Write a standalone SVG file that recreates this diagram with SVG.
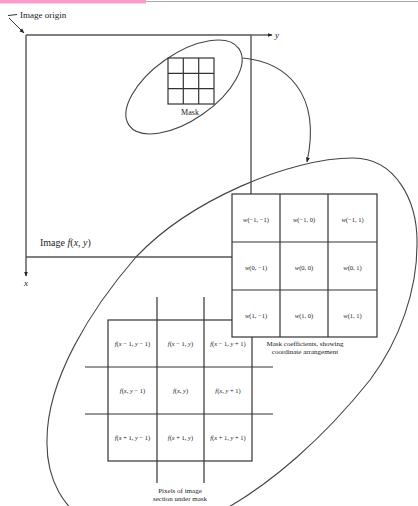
<svg xmlns="http://www.w3.org/2000/svg" width="418" height="506" viewBox="0 0 418 506">
<defs>
<marker id="ah" viewBox="0 0 10 10" refX="9" refY="5" markerWidth="5" markerHeight="5" orient="auto" markerUnits="userSpaceOnUse">
<path d="M0,1 L10,5 L0,9 z" fill="#222"/>
</marker>
<style>
text{font-family:"Liberation Serif","DejaVu Serif",serif;fill:#222}
.ln{fill:none;stroke:#555;stroke-width:1.4}
.gr{fill:none;stroke:#333;stroke-width:1.2}
.el{fill:none;stroke:#444;stroke-width:1.1}
.c{font-size:6.5px;text-anchor:middle}
.cap{font-size:7px;text-anchor:middle}
</style>
</defs>
<rect width="418" height="506" fill="#fff"/>
<line x1="0" y1="1.5" x2="418" y2="1.5" stroke="#aaa" stroke-width="1.2"/>
<rect x="0" y="0" width="146" height="3.5" fill="#f99ccc"/>

<g id="image">
<line class="ln" x1="26" y1="35" x2="251" y2="35"/>
<line class="ln" x1="251" y1="35" x2="251" y2="257"/>
<line class="ln" x1="26" y1="257" x2="251" y2="257"/>
<text x="40" y="246" font-size="10">Image <tspan font-style="italic">f</tspan>(<tspan font-style="italic">x</tspan>, <tspan font-style="italic">y</tspan>)</text>
</g>

<g id="axes">
<line class="ln" x1="251" y1="35" x2="272" y2="35" marker-end="url(#ah)"/>
<text x="275" y="38" font-size="9" font-style="italic">y</text>
<line class="ln" x1="26" y1="35" x2="26" y2="276" marker-end="url(#ah)"/>
<text x="24" y="286" font-size="9" font-style="italic">x</text>
</g>

<g id="origin">
<line x1="8" y1="15.5" x2="17" y2="14.5" stroke="#333" stroke-width="1"/>
<line x1="9" y1="18" x2="24" y2="33" stroke="#333" stroke-width="1" marker-end="url(#ah)"/>
<text x="20" y="18" font-size="9">Image origin</text>
</g>

<g id="small-ellipse">
<ellipse class="el" cx="184" cy="87" rx="67" ry="33" transform="rotate(-35 184 87)"/>
<rect class="gr" x="168" y="58" width="46" height="46"/>
<line class="gr" x1="183.3" y1="58" x2="183.3" y2="104"/>
<line class="gr" x1="198.7" y1="58" x2="198.7" y2="104"/>
<line class="gr" x1="168" y1="73.3" x2="214" y2="73.3"/>
<line class="gr" x1="168" y1="88.7" x2="214" y2="88.7"/>
<text x="190" y="115" font-size="8" text-anchor="middle">Mask</text>
</g>

<g id="connectors">
<path class="el" d="M243,58 C285,62 322,92 307,162" marker-end="url(#ah)"/>
</g>

<g id="big-ellipse">
<path class="el" d="M353,158 C395,158 418,200 417,245 C417,290 400,340 370,380 C330,430 270,490 200,522 C120,560 45,520 47,440 C47,380 90,310 136,257 C190,200 290,158 353,158 Z"/>
</g>

<g id="pixel-grid">
<rect class="gr" x="108" y="320" width="144" height="141"/>
<line class="gr" x1="157" y1="297" x2="157" y2="483"/>
<line class="gr" x1="204" y1="297" x2="204" y2="483"/>
<line class="gr" x1="85" y1="367" x2="273" y2="367"/>
<line class="gr" x1="85" y1="414" x2="273" y2="414"/>
<text class="c" x="132.5" y="346"><tspan font-style="italic">f</tspan>(<tspan font-style="italic">x</tspan> − 1, <tspan font-style="italic">y</tspan> − 1)</text>
<text class="c" x="180.5" y="346"><tspan font-style="italic">f</tspan>(<tspan font-style="italic">x</tspan> − 1, <tspan font-style="italic">y</tspan>)</text>
<text class="c" x="228" y="346"><tspan font-style="italic">f</tspan>(<tspan font-style="italic">x</tspan> − 1, <tspan font-style="italic">y</tspan> + 1)</text>
<text class="c" x="132.5" y="393"><tspan font-style="italic">f</tspan>(<tspan font-style="italic">x</tspan>, <tspan font-style="italic">y</tspan> − 1)</text>
<text class="c" x="180.5" y="393"><tspan font-style="italic">f</tspan>(<tspan font-style="italic">x</tspan>, <tspan font-style="italic">y</tspan>)</text>
<text class="c" x="228" y="393"><tspan font-style="italic">f</tspan>(<tspan font-style="italic">x</tspan>, <tspan font-style="italic">y</tspan> + 1)</text>
<text class="c" x="132.5" y="440"><tspan font-style="italic">f</tspan>(<tspan font-style="italic">x</tspan> + 1, <tspan font-style="italic">y</tspan> − 1)</text>
<text class="c" x="180.5" y="440"><tspan font-style="italic">f</tspan>(<tspan font-style="italic">x</tspan> + 1, <tspan font-style="italic">y</tspan>)</text>
<text class="c" x="228" y="440"><tspan font-style="italic">f</tspan>(<tspan font-style="italic">x</tspan> + 1, <tspan font-style="italic">y</tspan> + 1)</text>
<text class="cap" x="180" y="493">Pixels of image</text>
<text class="cap" x="180" y="501">section under mask</text>
</g>

<g id="mask-grid">
<rect x="232" y="194" width="145" height="143" fill="#fff" stroke="#333" stroke-width="1.2"/>
<line class="gr" x1="280" y1="194" x2="280" y2="337"/>
<line class="gr" x1="328" y1="194" x2="328" y2="337"/>
<line class="gr" x1="232" y1="242" x2="377" y2="242"/>
<line class="gr" x1="232" y1="290" x2="377" y2="290"/>
<text class="c" x="256" y="222"><tspan font-style="italic">w</tspan>(−1, −1)</text>
<text class="c" x="304" y="222"><tspan font-style="italic">w</tspan>(−1, 0)</text>
<text class="c" x="352.5" y="222"><tspan font-style="italic">w</tspan>(−1, 1)</text>
<text class="c" x="256" y="270"><tspan font-style="italic">w</tspan>(0, −1)</text>
<text class="c" x="304" y="270"><tspan font-style="italic">w</tspan>(0, 0)</text>
<text class="c" x="352.5" y="270"><tspan font-style="italic">w</tspan>(0, 1)</text>
<text class="c" x="256" y="318"><tspan font-style="italic">w</tspan>(1, −1)</text>
<text class="c" x="304" y="318"><tspan font-style="italic">w</tspan>(1, 0)</text>
<text class="c" x="352.5" y="318"><tspan font-style="italic">w</tspan>(1, 1)</text>
<text class="cap" x="305" y="346">Mask coefficients, showing</text>
<text class="cap" x="305" y="354">coordinate arrangement</text>
</g>
</svg>
